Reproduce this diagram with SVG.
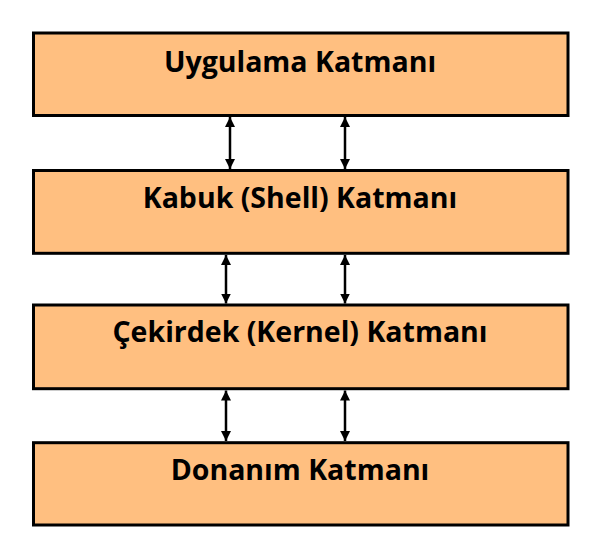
<svg xmlns="http://www.w3.org/2000/svg" width="600" height="552" viewBox="0 0 600 552">
<style>
.box{fill:#FFBF80;stroke:#000;stroke-width:3}
.lbl{font-family:"Open Sans","Noto Sans","DejaVu Sans",sans-serif;font-weight:bold;font-size:28.5px;fill:#000;text-anchor:middle}
.arr{stroke:#000;stroke-width:2.5;fill:none;marker-start:url(#ah);marker-end:url(#ah)}
</style>
<defs>
<marker id="ah" viewBox="0 0 10 10" refX="10" refY="5" markerWidth="4" markerHeight="4" orient="auto-start-reverse" markerUnits="strokeWidth">
<path d="M0,0 L10,5 L0,10 Z" fill="#000"/>
</marker>
</defs>
<rect width="600" height="552" fill="#fff"/>
<g id="connectors">
<line class="arr" x1="230" y1="117" x2="230" y2="169"/>
<line class="arr" x1="345" y1="117" x2="345" y2="169"/>
<line class="arr" x1="226" y1="255" x2="226" y2="303.5"/>
<line class="arr" x1="345" y1="255" x2="345" y2="303.5"/>
<line class="arr" x1="226" y1="390.5" x2="226" y2="441"/>
<line class="arr" x1="345" y1="390.5" x2="345" y2="441"/>
</g>
<g id="uygulama">
<rect class="box" x="33.5" y="33" width="534.5" height="82.5"/>
<text class="lbl" x="300" y="71.7">Uygulama Katmanı</text>
</g>
<g id="kabuk">
<rect class="box" x="33.5" y="170.5" width="534.5" height="82.8"/>
<text class="lbl" x="300" y="208.3">Kabuk (Shell) Katmanı</text>
</g>
<g id="cekirdek">
<rect class="box" x="33.5" y="305" width="534.5" height="83.7"/>
<text class="lbl" x="300" y="341.7">Çekirdek (Kernel) Katmanı</text>
</g>
<g id="donanim">
<rect class="box" x="33.5" y="442.7" width="534.5" height="82.3"/>
<text class="lbl" x="300" y="480">Donanım Katmanı</text>
</g>
</svg>
